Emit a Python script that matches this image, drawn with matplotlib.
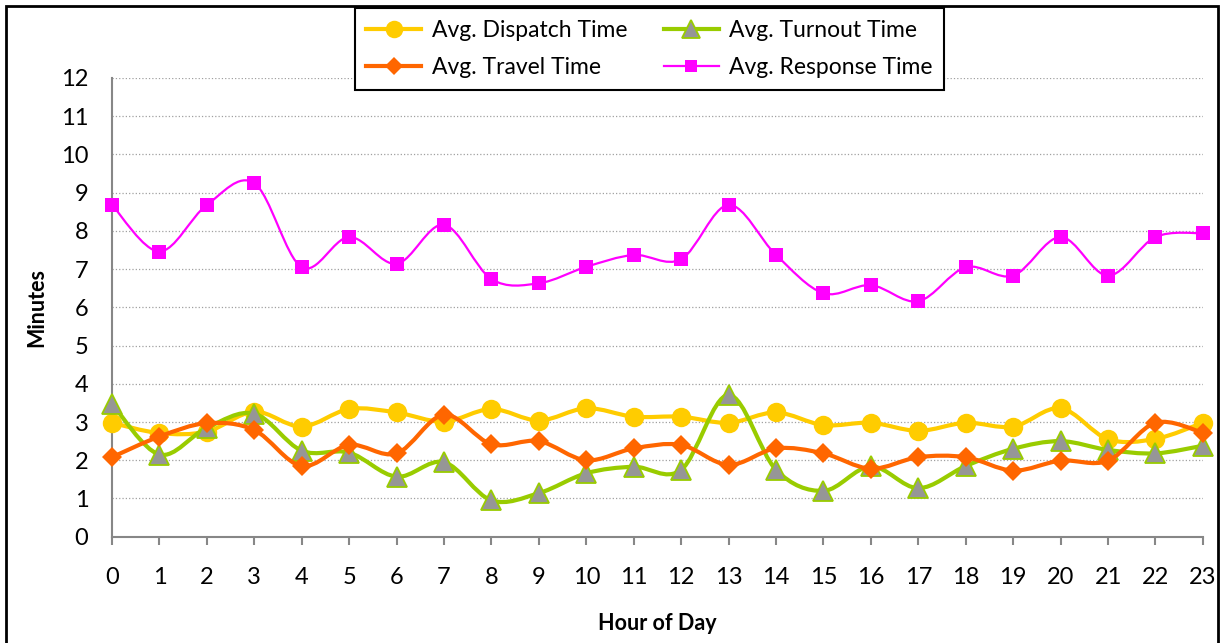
import matplotlib.pyplot as plt
from matplotlib.path import Path
from matplotlib.patches import PathPatch, Rectangle
from matplotlib.lines import Line2D

plt.rcParams['font.family'] = ['Lato', 'DejaVu Sans']

hours = list(range(24))

dispatch = [2.98, 2.71, 2.75, 3.27, 2.88, 3.34, 3.25, 3.01, 3.34, 3.04, 3.36, 3.14,
            3.14, 2.98, 3.25, 2.92, 2.98, 2.77, 2.98, 2.88, 3.36, 2.55, 2.56, 2.98]
turnout = [3.48, 2.15, 2.85, 3.22, 2.25, 2.20, 1.57, 1.95, 0.95, 1.14, 1.66, 1.83,
           1.75, 3.71, 1.75, 1.20, 1.84, 1.27, 1.85, 2.30, 2.50, 2.27, 2.18, 2.38]
travel = [2.08, 2.62, 2.97, 2.79, 1.85, 2.40, 2.18, 3.19, 2.42, 2.50, 2.00, 2.31,
          2.40, 1.88, 2.31, 2.18, 1.78, 2.08, 2.08, 1.73, 1.99, 1.99, 2.98, 2.72]
response = [8.68, 7.46, 8.68, 9.25, 7.05, 7.84, 7.14, 8.16, 6.74, 6.63, 7.06, 7.37,
            7.26, 8.68, 7.37, 6.37, 6.58, 6.16, 7.05, 6.83, 7.84, 6.83, 7.84, 7.94]


def smooth_path(xs, ys, t=1 / 6):
    # bezier segments through every point, like a spreadsheet "smoothed line"
    pts = list(zip(xs, ys))
    verts = [pts[0]]
    codes = [Path.MOVETO]
    n = len(pts)
    for i in range(n - 1):
        p0 = pts[i - 1] if i > 0 else pts[i]
        p1 = pts[i]
        p2 = pts[i + 1]
        p3 = pts[i + 2] if i + 2 < n else pts[i + 1]
        c1 = (p1[0] + (p2[0] - p0[0]) * t, p1[1] + (p2[1] - p0[1]) * t)
        c2 = (p2[0] - (p3[0] - p1[0]) * t, p2[1] - (p3[1] - p1[1]) * t)
        verts += [c1, c2, p2]
        codes += [Path.CURVE4] * 3
    return Path(verts, codes)


series = [
    ('Avg. Dispatch Time', dispatch, dict(color='#FFCC00', lw=3.0, marker='o', ms=14,
                                           mfc='#FFCC00', mec='#FFCC00', mew=0)),
    ('Avg. Turnout Time', turnout, dict(color='#99CC00', lw=3.0, marker='^', ms=14.5,
                                         mfc='#969696', mec='#99CC00', mew=1.3)),
    ('Avg. Travel Time', travel, dict(color='#FF6600', lw=3.0, marker='D', ms=10.5,
                                       mfc='#FF6600', mec='#FF6600', mew=0)),
    ('Avg. Response Time', response, dict(color='#FF00FF', lw=1.6, marker='s', ms=9.5,
                                           mfc='#FF00FF', mec='#FF00FF', mew=0)),
]

fig = plt.figure(figsize=(12.21, 6.43), dpi=100)
ax = fig.add_axes([0.0917, 0.1653, 0.8935, 0.7134])

handles = {}
for z, (name, vals, st) in enumerate(series):
    ax.add_patch(PathPatch(smooth_path(hours, vals), fill=False, edgecolor=st['color'],
                           lw=st['lw'], zorder=3 + 2 * z, capstyle='round', joinstyle='round'))
    ax.plot(hours, vals, linestyle='none', marker=st['marker'], ms=st['ms'],
            mfc=st['mfc'], mec=st['mec'], mew=st['mew'], zorder=4 + 2 * z, clip_on=False)
    handles[name] = Line2D([], [], color=st['color'], lw=st['lw'], marker=st['marker'],
                           ms=st['ms'] * 0.9, mfc=st['mfc'], mec=st['mec'], mew=st['mew'])

ax.set_xlim(0, 23)
ax.set_ylim(0, 12)
ax.set_xticks(hours)
ax.set_yticks(range(13))
ax.tick_params(axis='x', length=6, width=1.5, color='#878787', pad=16, labelsize=17)
ax.tick_params(axis='y', length=0, pad=17, labelsize=17)
ax.grid(axis='y', linestyle=':', color='#A0A0A0', lw=0.9)
ax.set_axisbelow(True)
for s in ['top', 'right']:
    ax.spines[s].set_visible(False)
for s in ['left', 'bottom']:
    ax.spines[s].set_color('#878787')
    ax.spines[s].set_linewidth(1.5)

ax.set_xlabel('Hour of Day', fontsize=15.5, fontweight='bold', labelpad=18)
ax.set_ylabel('Minutes', fontsize=15.5, fontweight='bold', labelpad=10)

order = ['Avg. Dispatch Time', 'Avg. Travel Time', 'Avg. Turnout Time', 'Avg. Response Time']
leg = fig.legend([handles[k] for k in order], order, ncol=2, loc='upper center',
                 bbox_to_anchor=(0.532, 0.987), fontsize=16.5, frameon=True, fancybox=False,
                 edgecolor='black', framealpha=1, handlelength=2.4, columnspacing=1.6,
                 labelspacing=0.72, borderpad=0.5, handletextpad=0.45, borderaxespad=0)
leg.get_frame().set_linewidth(1.5)
leg.set_zorder(20)

# outer chart border
fig.patches.append(Rectangle((6 / 1221, -0.02), 1212 / 1221, 1.0107, transform=fig.transFigure,
                             fill=False, edgecolor='black', lw=2, zorder=0))

fig.savefig('out.png', dpi=100)
